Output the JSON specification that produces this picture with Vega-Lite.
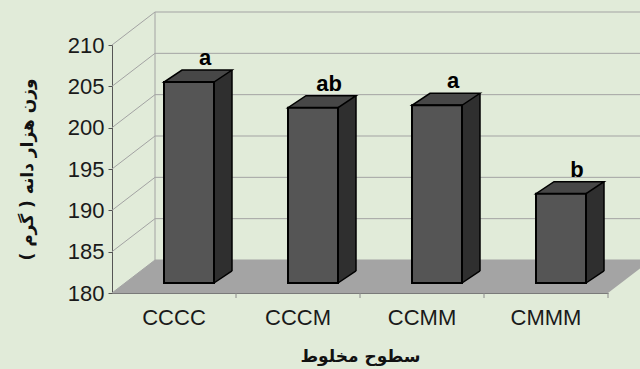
{
  "$schema": "https://vega.github.io/schema/vega-lite/v6.json",
  "width": 496,
  "height": 248,
  "autosize": {"type": "none"},
  "padding": {"left": 112, "top": 45, "right": 32, "bottom": 76},
  "background": "#e1ebd9",
  "config": {"view": {"stroke": null}, "font": "Liberation Sans"},
  "datasets": {
    "grainWeight": [
      {"mix": "CCCC", "weight": 204.3, "sig": "a"},
      {"mix": "CCCM", "weight": 201.2, "sig": "ab"},
      {"mix": "CCMM", "weight": 201.5, "sig": "a"},
      {"mix": "CMMM", "weight": 190.8, "sig": "b"}
    ],
    "levels": [
      {"level": 180}, {"level": 185}, {"level": 190}, {"level": 195},
      {"level": 200}, {"level": 205}, {"level": 210}
    ]
  },
  "data": {"name": "grainWeight"},
  "resolve": {"scale": {"x": "shared", "y": "shared"}},
  "layer": [
    {
      "description": "back wall gridlines",
      "data": {"name": "levels"},
      "mark": {"type": "rule", "color": "#a3a3a3", "strokeWidth": 1, "xOffset": 43, "x2Offset": 43, "yOffset": -33, "y2Offset": -33},
      "encoding": {
        "x": {"datum": "CCCC", "bandPosition": 0, "type": "nominal"},
        "x2": {"datum": "CMMM", "bandPosition": 1},
        "y": {"field": "level", "type": "quantitative"},
        "y2": {"field": "level"}
      }
    },
    {
      "description": "side wall diagonals",
      "data": {"name": "levels"},
      "mark": {"type": "rule", "color": "#a3a3a3", "strokeWidth": 1, "x2Offset": 43, "y2Offset": -33},
      "encoding": {
        "x": {"datum": "CCCC", "bandPosition": 0, "type": "nominal"},
        "x2": {"datum": "CCCC", "bandPosition": 0},
        "y": {"field": "level", "type": "quantitative"},
        "y2": {"field": "level"}
      }
    },
    {
      "description": "back wall corner edge",
      "data": {"values": [{}]},
      "mark": {"type": "rule", "color": "#a3a3a3", "strokeWidth": 1, "xOffset": 43, "yOffset": -33, "y2Offset": -33},
      "encoding": {
        "x": {"datum": "CCCC", "bandPosition": 0, "type": "nominal"},
        "y": {"datum": 210, "type": "quantitative"},
        "y2": {"datum": 180}
      }
    },
    {
      "description": "floor",
      "data": {"values": [{}]},
      "mark": {"type": "point", "filled": true, "opacity": 1, "fill": "#a4a4a4", "strokeWidth": 0,
               "size": 338724, "shape": "M-0.8522,0 L0.8522,0 L1,-0.1134 L-0.7045,-0.1134 Z"},
      "encoding": {
        "x": {"datum": "CCMM", "bandPosition": 0, "type": "nominal"},
        "y": {"datum": 180, "type": "quantitative"}
      }
    },
    {
      "description": "category separator ticks below the floor edge",
      "data": {"values": [{}]},
      "mark": {"type": "rule", "color": "#8a8a8a", "strokeWidth": 1, "y2Offset": 5},
      "encoding": {
        "x": {"datum": "CCCM", "bandPosition": 0, "type": "nominal"},
        "y": {"datum": 180, "type": "quantitative"},
        "y2": {"datum": 180}
      }
    },
    {
      "data": {"values": [{}]},
      "mark": {"type": "rule", "color": "#8a8a8a", "strokeWidth": 1, "y2Offset": 5},
      "encoding": {
        "x": {"datum": "CCMM", "bandPosition": 0, "type": "nominal"},
        "y": {"datum": 180, "type": "quantitative"},
        "y2": {"datum": 180}
      }
    },
    {
      "data": {"values": [{}]},
      "mark": {"type": "rule", "color": "#8a8a8a", "strokeWidth": 1, "y2Offset": 5},
      "encoding": {
        "x": {"datum": "CMMM", "bandPosition": 0, "type": "nominal"},
        "y": {"datum": 180, "type": "quantitative"},
        "y2": {"datum": 180}
      }
    },
    {
      "data": {"values": [{}]},
      "mark": {"type": "rule", "color": "#8a8a8a", "strokeWidth": 1, "y2Offset": 5},
      "encoding": {
        "x": {"datum": "CMMM", "bandPosition": 1, "type": "nominal"},
        "y": {"datum": 180, "type": "quantitative"},
        "y2": {"datum": 180}
      }
    },
    {
      "description": "bar side (back block)",
      "mark": {"type": "bar", "width": 50, "fill": "#2f2f2f", "strokeWidth": 0, "xOffset": 33, "yOffset": -22, "y2Offset": -22},
      "encoding": {
        "x": {"field": "mix", "type": "nominal", "sort": null},
        "y": {"field": "weight", "type": "quantitative"},
        "y2": {"datum": 180}
      }
    },
    {
      "description": "bar side lower corner",
      "mark": {"type": "point", "filled": true, "opacity": 1, "fill": "#2f2f2f", "strokeWidth": 0,
               "size": 7396, "shape": "M0.5814,0 L1,-0.2791 L0.5814,-0.2791 Z", "xOffset": 15, "yOffset": -10},
      "encoding": {
        "x": {"field": "mix", "type": "nominal", "sort": null},
        "y": {"datum": 180, "type": "quantitative"}
      }
    },
    {
      "description": "bar top face",
      "mark": {"type": "point", "filled": true, "opacity": 1, "fill": "#474747", "stroke": "#000000", "strokeWidth": 1.5,
               "size": 7396, "shape": "M-0.5814,0 L0.5814,0 L1,-0.2791 L-0.1628,-0.2791 Z", "xOffset": 15, "yOffset": -10},
      "encoding": {
        "x": {"field": "mix", "type": "nominal", "sort": null},
        "y": {"field": "weight", "type": "quantitative"}
      }
    },
    {
      "description": "bar side outer edge",
      "mark": {"type": "rule", "color": "#000000", "strokeWidth": 1.5, "xOffset": 58, "yOffset": -22, "y2Offset": -22},
      "encoding": {
        "x": {"field": "mix", "type": "nominal", "sort": null},
        "y": {"field": "weight", "type": "quantitative"},
        "y2": {"datum": 180}
      }
    },
    {
      "description": "bar side lower edge",
      "mark": {"type": "point", "filled": false, "opacity": 1, "stroke": "#000000", "strokeWidth": 1.5,
               "size": 7396, "shape": "M0.5814,0 L1,-0.2791", "xOffset": 15, "yOffset": -10},
      "encoding": {
        "x": {"field": "mix", "type": "nominal", "sort": null},
        "y": {"datum": 180, "type": "quantitative"}
      }
    },
    {
      "description": "bar front face",
      "mark": {"type": "bar", "width": 50, "fill": "#555555", "stroke": "#000000", "strokeWidth": 2, "xOffset": 15, "yOffset": -10, "y2Offset": -10},
      "encoding": {
        "x": {
          "field": "mix", "type": "nominal", "sort": null,
          "scale": {"domain": ["CCCC", "CCCM", "CCMM", "CMMM"], "paddingInner": 0, "paddingOuter": 0},
          "axis": {
            "title": "سطوح مخلوط", "titleFont": "DejaVu Sans", "titleFontSize": 17, "titleFontWeight": "bold", "titleColor": "#111111",
            "titlePadding": 20,
            "bandPosition": 0.5, "labelAlign": "center",
            "labelAngle": 0, "labelFontSize": 22, "labelColor": "#1a1a1a", "labelPadding": 24,
            "ticks": false, "domainColor": "#7a7a7a", "grid": false
          }
        },
        "y": {
          "field": "weight", "type": "quantitative",
          "scale": {"domain": [180, 210], "nice": false, "zero": false},
          "axis": {
            "title": "وزن هزار دانه ( گرم )", "titleFont": "DejaVu Sans", "titleFontSize": 17, "titleFontWeight": "bold", "titleColor": "#111111",
            "titlePadding": 31,
            "values": [180, 185, 190, 195, 200, 205, 210],
            "labelFontSize": 22, "labelColor": "#1a1a1a", "labelPadding": 4,
            "tickSize": 4, "tickColor": "#555555", "domainColor": "#555555", "grid": false
          }
        },
        "y2": {"datum": 180}
      }
    },
    {
      "description": "significance letters",
      "mark": {"type": "text", "fontSize": 22, "fontWeight": "bold", "color": "#000000", "baseline": "alphabetic", "xOffset": 31, "yOffset": -27},
      "encoding": {
        "x": {"field": "mix", "type": "nominal", "sort": null},
        "y": {"field": "weight", "type": "quantitative"},
        "text": {"field": "sig"}
      }
    }
  ]
}
